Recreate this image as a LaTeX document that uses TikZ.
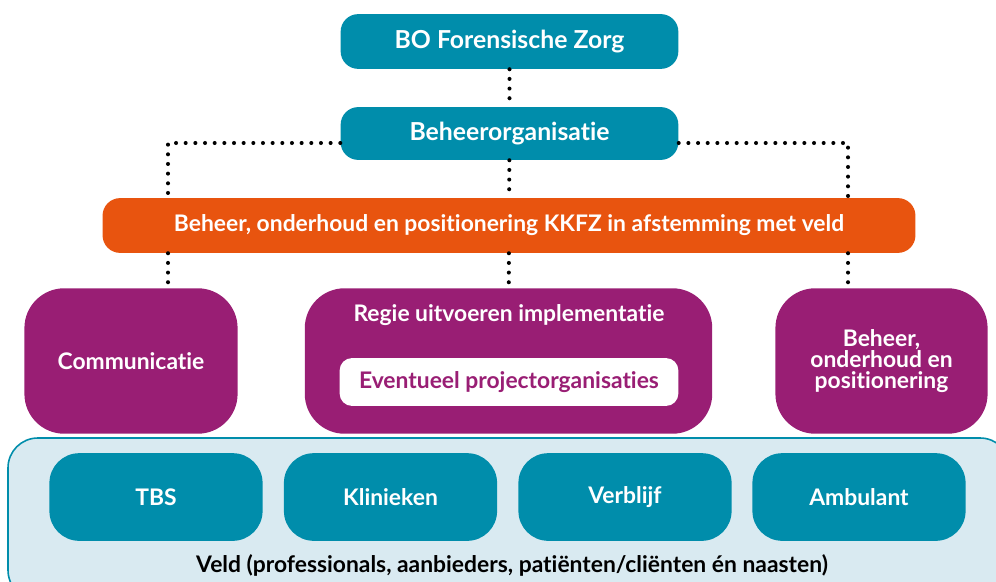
\documentclass[tikz,border=0pt]{standalone}
\usepackage{fontspec}
\setmainfont{Lato}[Ligatures={NoCommon,NoRare}]
\definecolor{zorgteal}{RGB}{0,141,171}
\definecolor{zorgorange}{RGB}{232,84,15}
\definecolor{zorgpurple}{RGB}{153,30,116}
\definecolor{veldblue}{RGB}{217,234,241}
\newcommand{\boxfont}{\bfseries\fontsize{13}{12}\selectfont}
\tikzset{
  tealbox/.style={fill=zorgteal, text=white, font=\boxfont, rounded corners=#1, inner sep=0pt},
  purplebox/.style={fill=zorgpurple, text=white, font=\boxfont, rounded corners=40*0.567pt, inner sep=0pt},
  dots/.style={line width=2.3pt, line cap=round, dash pattern=on 0pt off 5.5pt},
}

\begin{document}
\begin{tikzpicture}[x=0.02cm, y=-0.02cm]
			\useasboundingbox (0,0) rectangle (996,581);
			% veld background
			\draw[fill=veldblue, draw=zorgteal, line width=0.9pt, rounded corners=17pt]
				(8,438) rectangle (1010,600);
			% top boxes
			\node[tealbox=10pt, minimum width=339*0.567pt, minimum height=55*0.567pt, font=\bfseries\fontsize{14.1}{16}\selectfont]
				(bo) at (509.5,41.5) {BO Forensische Zorg};
			\node[tealbox=10pt, minimum width=339*0.567pt, minimum height=53*0.567pt, font=\bfseries\fontsize{14.1}{16}\selectfont]
				(beheer) at (509.5,133.5) {Beheerorganisatie};
			\node[tealbox=10pt, fill=zorgorange, minimum width=816*0.567pt, minimum height=55*0.567pt]
				(kkfz) at (509,225.5) {Beheer, onderhoud en positionering KKFZ in afstemming met veld};
			% purple boxes
			\node[purplebox, minimum width=214*0.567pt, minimum height=146*0.567pt]
				(comm) at (131,361) {Communicatie};
			\node[purplebox, minimum width=409*0.567pt, minimum height=146*0.567pt]
				(regie) at (508.5,361) {};
			\node[font=\boxfont, text=white]
				(regietxt) at (509,315) {Regie uitvoeren implementatie};
			\node[fill=white, rounded corners=7pt, minimum width=340*0.567pt, minimum height=48*0.567pt,
				text=zorgpurple, font=\boxfont]
				(project) at (509,382) {Eventueel projectorganisaties};
			\node[purplebox, minimum width=213*0.567pt, minimum height=146*0.567pt, align=center]
				(onderhoud) at (881.5,361) {Beheer,\\onderhoud en\\positionering};
			% veld boxes
			\foreach \name/\x/\label in {tbs/156/TBS, klin/390.5/Klinieken, verbl/625/Verblijf, amb/859/Ambulant}{
				\node[tealbox=17pt, minimum width=214*0.567pt, minimum height=88*0.567pt]
					(\name) at (\x,497) {\label};
			}
			\node[font=\boxfont] (veld) at (512,565)
				{Veld (professionals, aanbieders, patiënten/cliënten én naasten)};
			% dotted connectors
			\coordinate (leftturn) at (168,143);
			\coordinate (rightturn) at (848,143);
			\draw[dots] (bo) -- (beheer);
			\draw[dots] (beheer) -- (kkfz);
			\draw[dots] (beheer.west |- leftturn) -- (leftturn) -- (leftturn |- kkfz.north);
			\draw[dots] (beheer.east |- rightturn) -- (rightturn) -- (rightturn |- kkfz.north);
			\draw[dots] (kkfz.south -| leftturn) -- (comm.north -| leftturn);
			\draw[dots] (kkfz) -- (regie);
			\draw[dots] (kkfz.south -| rightturn) -- (onderhoud.north -| rightturn);
\end{tikzpicture}
\end{document}
